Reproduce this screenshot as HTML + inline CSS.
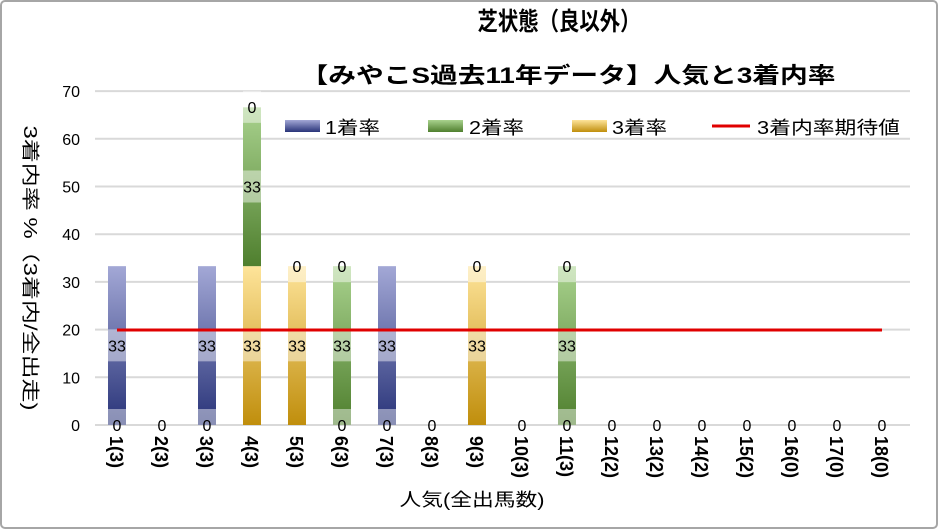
<!DOCTYPE html>
<html><head><meta charset="utf-8"><style>
body{margin:0;background:#fff}
svg{display:block;font-family:"Liberation Sans","Noto Sans CJK JP",sans-serif}
</style></head><body>
<svg id="s" width="938" height="529" viewBox="0 0 938 529" xmlns="http://www.w3.org/2000/svg">
<defs>
<linearGradient id="gb" x1="0" y1="1" x2="0" y2="0"><stop offset="0" stop-color="#283378"/><stop offset="1" stop-color="#a3a8d6"/></linearGradient>
<linearGradient id="gg" x1="0" y1="1" x2="0" y2="0"><stop offset="0" stop-color="#4f7f2e"/><stop offset="1" stop-color="#a9d28e"/></linearGradient>
<linearGradient id="gy" x1="0" y1="1" x2="0" y2="0"><stop offset="0" stop-color="#c08e0c"/><stop offset="1" stop-color="#fee49a"/></linearGradient>
<linearGradient id="lb" x1="0" y1="1" x2="0" y2="0"><stop offset="0" stop-color="#283378"/><stop offset="1" stop-color="#a3a8d6"/></linearGradient>
</defs>
<rect x="1" y="1" width="936" height="527" rx="4" fill="#fff" stroke="#a6a6a6" stroke-width="2"/>
<text x="559" y="30" font-size="25" font-weight="bold" text-anchor="middle" textLength="163" lengthAdjust="spacingAndGlyphs">芝状態（良以外）</text>
<text x="568" y="83" font-size="22" font-weight="bold" text-anchor="middle" textLength="535" lengthAdjust="spacingAndGlyphs">【みやこS過去11年データ】人気と3着内率</text>
<g id="grid" stroke="#d9d9d9" stroke-width="2"></g>
<g id="ylab" font-size="16" text-anchor="end"></g>
<g id="bars"></g>
<line x1="117" y1="330" x2="882" y2="330" stroke="#e00000" stroke-width="3"/>
<g id="lbl" font-size="16" text-anchor="middle"></g>
<g id="xl" font-size="18" font-weight="bold"></g>
<text transform="translate(24,268) rotate(90)" font-size="18" text-anchor="middle" textLength="285" lengthAdjust="spacingAndGlyphs">3着内率 %（3着内/全出走)</text>
<text x="472" y="506" font-size="18" text-anchor="middle" textLength="145" lengthAdjust="spacingAndGlyphs">人気(全出馬数)</text>
<g font-size="18">
<rect x="285" y="120" width="35" height="12" fill="url(#lb)"/><text x="325" y="134" textLength="55" lengthAdjust="spacingAndGlyphs">1着率</text>
<rect x="428" y="120" width="35" height="12" fill="url(#gg)"/><text x="469" y="134" textLength="55" lengthAdjust="spacingAndGlyphs">2着率</text>
<rect x="572" y="120" width="35" height="12" fill="url(#gy)"/><text x="612" y="134" textLength="55" lengthAdjust="spacingAndGlyphs">3着率</text>
<line x1="712" y1="126" x2="750" y2="126" stroke="#e00000" stroke-width="3"/><text x="757" y="134" textLength="143" lengthAdjust="spacingAndGlyphs">3着内率期待値</text>
</g>
</svg>
<script>
const NS="http://www.w3.org/2000/svg";
function el(p,t,a,txt){const e=document.createElementNS(NS,t);for(const k in a)e.setAttribute(k,a[k]);if(txt!=null)e.textContent=txt;document.getElementById(p).appendChild(e);}
const y0=425,py=4.77;
const Y=v=>y0-v*py;
for(let v=0;v<=70;v+=10){ el("grid","line",{x1:95,x2:910,y1:Y(v),y2:Y(v)}); el("ylab","text",{x:80,y:Y(v)+6},v);}
const cx=i=>117+45*i;
const data={0:[["b",33.3]],2:[["b",33.3]],3:[["y",33.3],["g",33.3]],4:[["y",33.3]],5:[["g",33.3]],6:[["b",33.3]],8:[["y",33.3]],10:[["g",33.3]]};
const labs={0:[[0,"0"],[16.7,"33"]],1:[[0,"0"]],2:[[0,"0"],[16.7,"33"]],3:[[16.7,"33"],[50,"33"],[66.7,"0"]],4:[[16.7,"33"],[33.3,"0"]],5:[[0,"0"],[16.7,"33"],[33.3,"0"]],6:[[0,"0"],[16.7,"33"]],7:[[0,"0"]],8:[[16.7,"33"],[33.3,"0"]],9:[[0,"0"]],10:[[0,"0"],[16.7,"33"],[33.3,"0"]]};
const labels=["1(3)","2(3)","3(3)","4(3)","5(3)","6(3)","7(3)","8(3)","9(3)","10(3)","11(3)","12(2)","13(2)","14(2)","15(2)","16(0)","17(0)","18(0)"];
for(let i=0;i<18;i++){
 let base=0;
 (data[i]||[]).forEach(([c,v])=>{el("bars","rect",{x:cx(i)-9,y:Y(base+v),width:18,height:v*py,fill:"url(#g"+c+")"});base+=v;});
 const L=labs[i]||[[0,"0"]];
 L.forEach(([v,t])=>{const yy=Y(v);if(data[i]){const top=Math.max(yy-16,0),bot=Math.min(yy+16,425);el("bars","rect",{x:cx(i)-9,y:top,width:18,height:bot-top,fill:"#fff","fill-opacity":0.45});}
  el("lbl","text",{x:cx(i),y:yy+6},t);});
 el("xl","text",{transform:`translate(${cx(i)-7},436) rotate(90)`},labels[i]);
}
</script>
</body></html>
